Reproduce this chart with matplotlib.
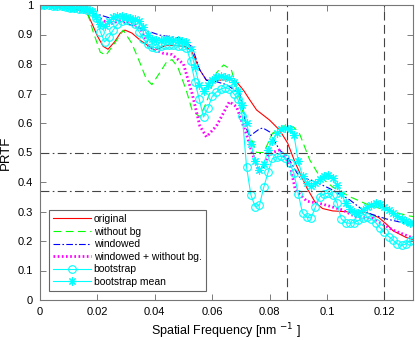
import numpy as np
import matplotlib.pyplot as plt

plt.rcParams['font.family'] = ['Liberation Sans', 'DejaVu Sans']

# --- data ---
x_orig = [0, 0.005, 0.01, 0.014, 0.0162, 0.018, 0.02, 0.022, 0.0237, 0.026, 0.028, 0.0296, 0.032,
          0.035, 0.038, 0.04, 0.042, 0.044, 0.048, 0.051, 0.053, 0.0557, 0.058, 0.0626, 0.066, 0.0685,
          0.071, 0.073, 0.0755, 0.08, 0.0835, 0.0863, 0.089, 0.093, 0.096, 0.0985, 0.102, 0.109,
          0.1136, 0.118, 0.121, 0.123, 0.1276, 0.13]
y_orig = [1.0, 0.995, 0.99, 0.983, 0.977, 0.94, 0.895, 0.86, 0.85, 0.875, 0.905, 0.915, 0.905,
          0.88, 0.86, 0.847, 0.855, 0.864, 0.862, 0.858, 0.84, 0.78, 0.745, 0.745, 0.748, 0.74,
          0.71, 0.68, 0.644, 0.61, 0.576, 0.532, 0.464, 0.38, 0.33, 0.31, 0.302, 0.298,
          0.297, 0.28, 0.255, 0.235, 0.212, 0.205]

x_nobg = [0, 0.005, 0.01, 0.014, 0.0165, 0.0185, 0.021, 0.023, 0.026, 0.029, 0.032, 0.035, 0.037,
          0.039, 0.0417, 0.044, 0.046, 0.048, 0.051, 0.053, 0.0557, 0.058, 0.0615, 0.064, 0.0667,
          0.0696, 0.072, 0.0755, 0.078, 0.081, 0.0846, 0.086, 0.0885, 0.0904, 0.094, 0.0974, 0.102,
          0.108, 0.115, 0.1206, 0.1287, 0.13]
y_nobg = [1.0, 0.995, 0.99, 0.983, 0.975, 0.91, 0.84, 0.83, 0.87, 0.915, 0.87, 0.8, 0.75,
          0.73, 0.77, 0.805, 0.815, 0.79, 0.71, 0.644, 0.62, 0.67, 0.77, 0.797, 0.78,
          0.68, 0.587, 0.5, 0.5, 0.565, 0.587, 0.593, 0.585, 0.565, 0.475, 0.42, 0.383,
          0.35, 0.32, 0.305, 0.285, 0.283]

x_win = [0, 0.005, 0.01, 0.014, 0.017, 0.021, 0.028, 0.035, 0.0417, 0.0487, 0.053, 0.0557, 0.058,
         0.0615, 0.065, 0.0696, 0.071, 0.072, 0.073, 0.0765, 0.0777, 0.08, 0.0835, 0.0863, 0.0904,
         0.095, 0.102, 0.108, 0.1136, 0.1206, 0.13]
y_win = [1.0, 0.995, 0.99, 0.983, 0.976, 0.966, 0.945, 0.92, 0.898, 0.888, 0.858, 0.78, 0.745,
         0.74, 0.73, 0.70, 0.64, 0.58, 0.555, 0.58, 0.583, 0.57, 0.508, 0.485, 0.417,
         0.405, 0.373, 0.339, 0.297, 0.275, 0.254]

x_winnobg = [0, 0.005, 0.01, 0.014, 0.017, 0.02, 0.0243, 0.028, 0.032, 0.035, 0.038, 0.043, 0.046,
             0.05, 0.053, 0.0557, 0.058, 0.0615, 0.066, 0.0685, 0.072, 0.074, 0.0765, 0.08, 0.0835,
             0.087, 0.089, 0.093, 0.0985, 0.1055, 0.11, 0.116, 0.123, 0.13]
y_winnobg = [1.0, 0.995, 0.99, 0.983, 0.976, 0.958, 0.935, 0.948, 0.94, 0.92, 0.858, 0.836, 0.832,
             0.80, 0.70, 0.59, 0.553, 0.59, 0.672, 0.655, 0.56, 0.497, 0.43, 0.497, 0.508,
             0.463, 0.373, 0.335, 0.325, 0.305, 0.282, 0.277, 0.237, 0.21]

x_boot = [0, 0.0015, 0.003, 0.0045, 0.006, 0.0075, 0.009, 0.0105, 0.012, 0.0135, 0.015, 0.0165,
          0.018, 0.0195, 0.021, 0.0225, 0.024, 0.0255, 0.027, 0.0285, 0.030, 0.0315, 0.033, 0.0345,
          0.036, 0.0375, 0.039, 0.0405, 0.042, 0.0435, 0.045, 0.0465, 0.048, 0.0495, 0.051, 0.0525,
          0.054, 0.0555, 0.057, 0.0585, 0.060, 0.0615, 0.063, 0.0645, 0.066, 0.0675, 0.069, 0.0705,
          0.072, 0.0735, 0.075, 0.0765, 0.078, 0.0795, 0.081, 0.0825, 0.084, 0.0855, 0.087, 0.0885,
          0.090, 0.0915, 0.093, 0.0945, 0.096, 0.0975, 0.099, 0.1005, 0.102, 0.1035, 0.105, 0.1065,
          0.108, 0.1095, 0.111, 0.1125, 0.114, 0.1155, 0.117, 0.1185, 0.120, 0.1215, 0.123, 0.1245,
          0.126, 0.1275, 0.129, 0.130]
y_boot = [1.0, 1.0, 0.999, 0.998, 0.997, 0.995, 0.993, 0.991, 0.989, 0.987, 0.985, 0.982,
          0.975, 0.955, 0.91, 0.875, 0.89, 0.915, 0.935, 0.945, 0.95, 0.945, 0.935, 0.91,
          0.885, 0.868, 0.858, 0.855, 0.86, 0.865, 0.866, 0.865, 0.862, 0.86, 0.855, 0.81,
          0.74, 0.68, 0.62, 0.65, 0.69, 0.705, 0.715, 0.72, 0.715, 0.70, 0.68, 0.625,
          0.45, 0.356, 0.316, 0.322, 0.383, 0.433, 0.48, 0.485, 0.487, 0.482, 0.465, 0.43,
          0.36, 0.295, 0.28, 0.278, 0.316, 0.35, 0.36, 0.362, 0.355, 0.33, 0.275, 0.262,
          0.26, 0.262, 0.27, 0.278, 0.28, 0.275, 0.262, 0.245, 0.23, 0.215, 0.203, 0.19,
          0.185, 0.19, 0.2, 0.203]

x_mean = x_boot
y_mean = [1.0, 1.0, 1.0, 0.999, 0.998, 0.997, 0.995, 0.993, 0.991, 0.989, 0.987, 0.985,
          0.98, 0.96, 0.935, 0.93, 0.945, 0.96, 0.963, 0.962, 0.96, 0.957, 0.952, 0.945,
          0.925, 0.9, 0.885, 0.88, 0.882, 0.885, 0.885, 0.883, 0.88, 0.878, 0.875, 0.85,
          0.79, 0.73, 0.71, 0.73, 0.745, 0.755, 0.758, 0.757, 0.752, 0.74, 0.71, 0.66,
          0.6, 0.53, 0.47, 0.44, 0.46, 0.51, 0.54, 0.565, 0.578, 0.582, 0.578, 0.56,
          0.47, 0.42, 0.395, 0.385, 0.395, 0.41, 0.42, 0.425, 0.415, 0.39, 0.36, 0.33,
          0.31, 0.298, 0.295, 0.305, 0.315, 0.322, 0.328, 0.325, 0.315, 0.305, 0.295, 0.285,
          0.275, 0.268, 0.262, 0.26]

h_levels = [0.5, 0.368]      # 0.5 and 1/e thresholds
v_levels = [0.086, 0.12]     # resolution markers

x_ticks = [0, 0.02, 0.04, 0.06, 0.08, 0.1, 0.12]
x_ticklabels = ['0', '0.02', '0.04', '0.06', '0.08', '0.1', '0.12']
y_ticks = [0, 0.1, 0.2, 0.3, 0.4, 0.5, 0.6, 0.7, 0.8, 0.9, 1.0]
y_ticklabels = ['0', '0.1', '0.2', '0.3', '0.4', '0.5', '0.6', '0.7', '0.8', '0.9', '1']

fig = plt.figure(figsize=(4.15, 3.4), dpi=100)
ax = fig.add_axes([40 / 415, 40 / 340, 373 / 415, 295 / 340])

ax.plot(x_orig, y_orig, color='#ff0000', lw=0.8, label='original')
ax.plot(x_nobg, y_nobg, color='#00ff00', lw=0.8, ls=(0, (7, 4)), label='without bg')
ax.plot(x_win, y_win, color='#0000ff', lw=0.8, ls=(0, (6, 2, 1.5, 2)), label='windowed')
ax.plot(x_winnobg, y_winnobg, color='#ff00ff', lw=2.0, ls=(0, (0.6, 0.9)), label='windowed + without bg.')
ax.plot(x_boot, y_boot, color='#00ffff', lw=0.8, marker='o', ms=5.5, mfc='none', mew=0.8,
        label='bootstrap')
# matlab-style asterisk marker
ax.plot(x_mean, y_mean, color='#00ffff', lw=0.8, marker=(8, 2, 0), ms=6, mew=0.8,
        label='bootstrap mean')

for h in h_levels:
    ax.axhline(h, color='#444444', lw=0.8, ls=(0, (8, 3, 1.5, 3)))
for v in v_levels:
    ax.axvline(v, color='#444444', lw=0.8, ls=(0, (8, 4)))

ax.set_xlim(0, 0.13)
ax.set_ylim(0, 1)
ax.set_xticks(x_ticks)
ax.set_xticklabels(x_ticklabels)
ax.set_yticks(y_ticks)
ax.set_yticklabels(y_ticklabels)
ax.tick_params(direction='in', top=True, right=True, length=4, width=0.6,
               color='#666666', labelsize=8, pad=5)
for s in ax.spines.values():
    s.set_color('#777777')
    s.set_linewidth(0.8)

ax.set_xlabel(r'Spatial Frequency [nm $^{-1}$ ]', fontsize=9, labelpad=3)
ax.set_ylabel('PRTF', fontsize=9.5, labelpad=4)

leg = ax.legend(loc='lower left', bbox_to_anchor=(0.024, 0.03), borderaxespad=0,
                fontsize=7.5, fancybox=False, framealpha=1, edgecolor='#666666',
                handlelength=3.6, handletextpad=0.3, labelspacing=0.25, borderpad=0.4)
leg.get_frame().set_linewidth(0.8)

fig.savefig('out.png', dpi=100)
